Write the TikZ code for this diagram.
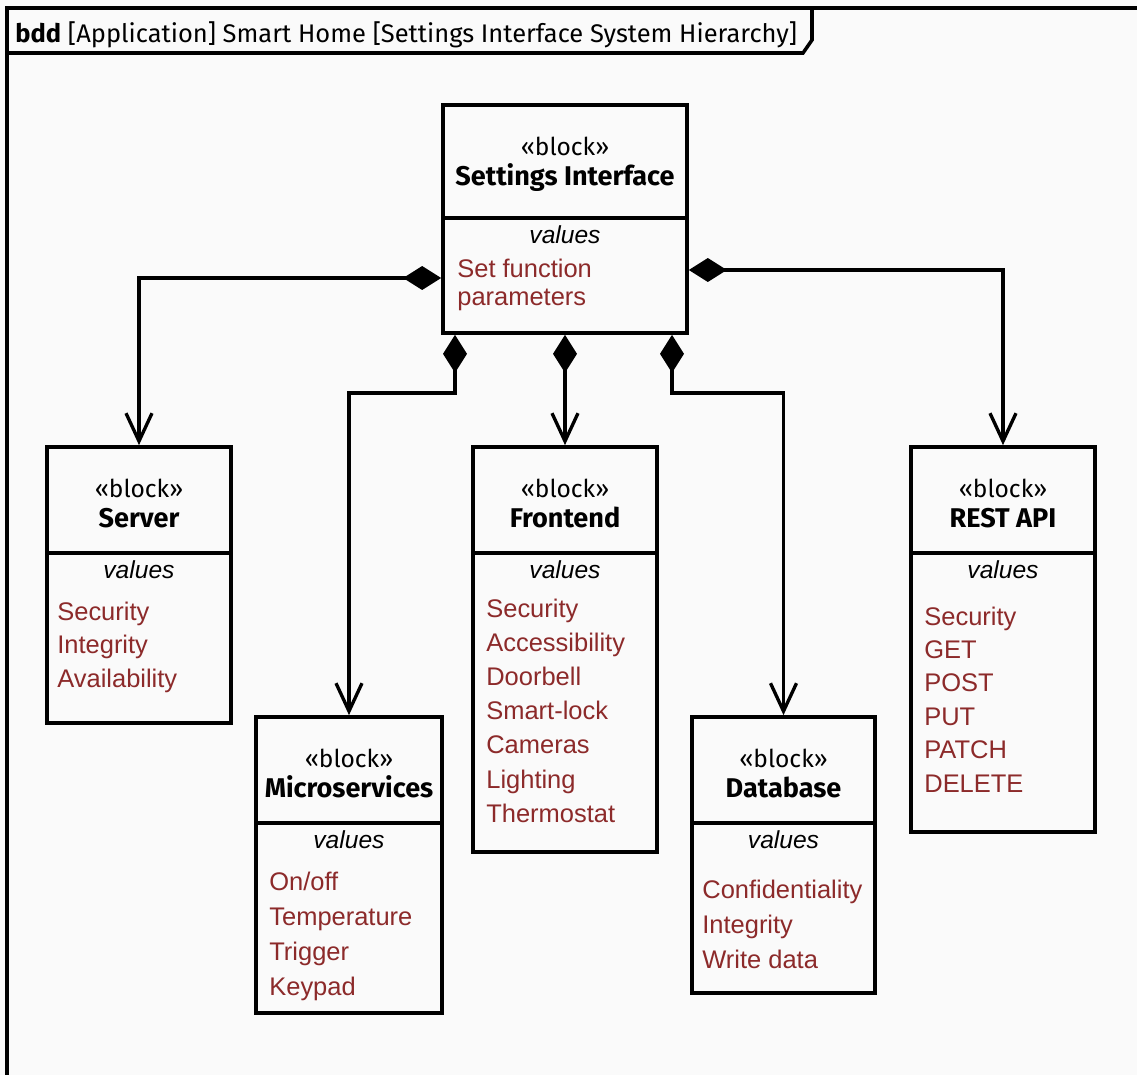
\documentclass[tikz,border=0pt]{standalone}
\usepackage{fontspec}
\setmainfont{Liberation Sans}
\newfontfamily\hdrfont{Fira Sans}
\usetikzlibrary{arrows.meta,fit}

\definecolor{valred}{RGB}{140,42,42}
\definecolor{paper}{RGB}{250,250,250}

\tikzset{
  frameline/.style={line width=2pt, draw=black},
  boxline/.style={line width=2.1pt, draw=black},
  blockbox/.style={boxline, inner sep=0pt, fill=paper},
  stereo/.style={font=\hdrfont\fontsize{14}{16}\selectfont, anchor=base, inner sep=0pt},
  btitle/.style={font=\hdrfont\bfseries\fontsize{15.4}{17}\selectfont, anchor=base, inner sep=0pt},
  vallabel/.style={font=\itshape\fontsize{14}{16}\selectfont, anchor=base, inner sep=0pt},
  valtext/.style={font=\fontsize{14.5}{16}\selectfont, text=valred, anchor=base west, inner sep=0pt},
  comp/.style={line width=1.9pt, draw=black, line join=miter,
    {Diamond[length=0.76cm, width=0.48cm, fill=black]}-{Straight Barb[length=0.56cm, width=0.52cm]}},
}

% block: name, x1, y1, x2, y2, divider y, title
\newcommand\sysblock[7]{%
  \coordinate (#1-nw) at (#2,#3);
  \coordinate (#1-se) at (#4,#5);
  \node[blockbox, fit=(#1-nw)(#1-se)] (#1) {};
  \draw[boxline] (#2,#6) -- (#4,#6);
  \node[stereo] (#1-st) at ({(#2+#4)/2},{#3+50}) {«block»};
  \node[btitle] (#1-ti) at ({(#2+#4)/2},{#3+80}) {#7};
  \node[vallabel] (#1-vl) at ({(#2+#4)/2},{#6+25}) {values};
}
% value list: name, left x, first baseline, line spacing, entries
\newcommand\sysvalues[5]{%
  \foreach \v [count=\i] in {#5}
    \node[valtext] (#1-v\i) at (#2,{#3+(\i-1)*#4}) {\v};
}

\begin{document}
\begin{tikzpicture}[x=0.02cm, y=-0.02cm]
  \fill[paper] (0,0) rectangle (1137,1075);
  \useasboundingbox (0,0) rectangle (1137,1075);

  % diagram frame and its name tab
  \draw[frameline] (7,1075) -- (7,8) -- (1137,8);
  \draw[frameline] (7,53) -- (803,53) -- (812,40) -- (812,8);
  \node[font=\hdrfont\fontsize{14.5}{16}\selectfont, anchor=base west, inner sep=0pt] (hdr) at (15,42)
    {\textbf{bdd} [Application] Smart Home [Settings Interface System Hierarchy]};

  % blocks
  \sysblock{si}{443}{105}{687}{333}{218}{Settings Interface}
  \sysvalues{si}{457}{277}{28}{Set function, parameters}

  \sysblock{srv}{47}{447}{231}{723}{553}{Server}
  \sysvalues{srv}{57}{620}{33.5}{Security, Integrity, Availability}

  \sysblock{fe}{473}{447}{657}{852}{553}{Frontend}
  \sysvalues{fe}{486}{617}{34.2}{Security, Accessibility, Doorbell, Smart-lock, Cameras, Lighting, Thermostat}

  \sysblock{rest}{911}{447}{1095}{832}{553}{REST API}
  \sysvalues{rest}{924}{625}{33.4}{Security, GET, POST, PUT, PATCH, DELETE}

  \sysblock{mic}{256}{717}{442}{1013}{823}{Microservices}
  \sysvalues{mic}{269}{890}{35}{On/off, Temperature, Trigger, Keypad}

  \sysblock{db}{692}{717}{875}{993}{823}{Database}
  \sysvalues{db}{702}{898}{35}{Confidentiality, Integrity, Write data}

  % bend points of the composition connectors
  \coordinate (k1) at (139,278);
  \coordinate (k2) at (1003,270);
  \coordinate (k3) at (455,393);
  \coordinate (k4) at (349,393);
  \coordinate (k5) at (672,393);
  \coordinate (k6) at (783.5,393);

  % composition connectors
  \draw[comp] (si.west |- k1) -- (k1) -- (srv.north);
  \draw[comp] (si.east |- k2) -- (k2) -- (rest.north);
  \draw[comp] (si.south -| k3) -- (k3) -- (k4) -- (mic.north);
  \draw[comp] (si.south -| fe.north) -- (fe.north);
  \draw[comp] (si.south -| k5) -- (k5) -- (k6) -- (db.north);
\end{tikzpicture}
\end{document}
